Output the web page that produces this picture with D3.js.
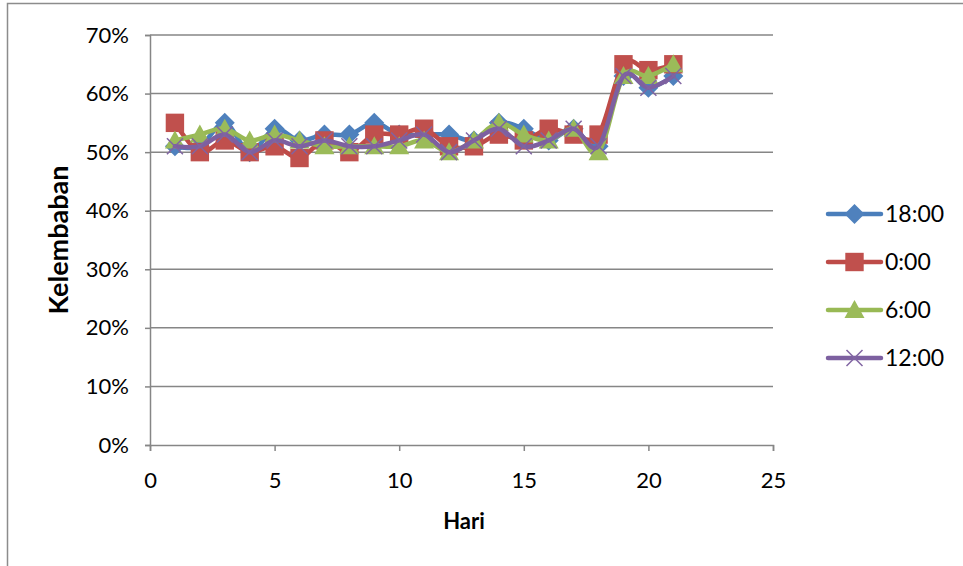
<!DOCTYPE html>
<html><head><meta charset="utf-8">
<script src="https://cdn.jsdelivr.net/npm/d3@7"></script>
<style>body{margin:0;background:#fff}svg{display:block}text{font-family:Lato,"Open Sans",sans-serif}</style>
</head><body>
<svg id="c" width="963" height="566"></svg>
<script>
const days = d3.range(1, 22);
const seriesNames = ["18:00", "0:00", "6:00", "12:00"];
const s1800 = [0.51,0.51,0.55,0.50,0.54,0.52,0.53,0.53,0.55,0.53,0.53,0.53,0.52,0.55,0.54,0.52,0.54,0.51,0.63,0.61,0.63];
const s0000 = [0.55,0.50,0.52,0.50,0.51,0.49,0.52,0.50,0.53,0.53,0.54,0.51,0.51,0.53,0.52,0.54,0.53,0.53,0.65,0.64,0.65];
const s0600 = [0.52,0.53,0.54,0.52,0.53,0.52,0.51,0.51,0.51,0.51,0.52,0.50,0.52,0.55,0.53,0.52,0.54,0.50,0.63,0.63,0.65];
const s1200 = [0.51,0.51,0.53,0.50,0.52,0.51,0.52,0.51,0.51,0.52,0.53,0.50,0.52,0.54,0.51,0.52,0.54,0.51,0.63,0.61,0.63];
const xTicks = [0,5,10,15,20,25];
const yTicks = [0,0.1,0.2,0.3,0.4,0.5,0.6,0.7];
const colors = ["#4A7EBB","#BE4B48","#98B954","#7D60A0"];
const markerColors = ["#4F81BD","#C0504D","#9BBB59","#8064A2"];
const shapes = ["diamond","square","triangle","x"];
const allSeries = [s1800, s0000, s0600, s1200];

const svg = d3.select("#c");
const L = 150, R = 773, T = 35, B = 445;
const x = d3.scaleLinear().domain([0,25]).range([L,R]);
const y = d3.scaleLinear().domain([0,0.7]).range([B,T]);

// outer frame
svg.append("rect").attr("x",7.5).attr("y",3.5).attr("width",1000).attr("height",1000)
  .attr("fill","none").attr("stroke","#8c8c8c").attr("stroke-width",1.5);

// gridlines
svg.append("g").selectAll("line").data(yTicks.slice(1)).join("line")
  .attr("x1",L).attr("x2",R).attr("y1",d=>y(d)).attr("y2",d=>y(d))
  .attr("stroke","#868686").attr("stroke-width",1.5);

const yAxis = svg.append("g").attr("transform",`translate(${L},0)`)
  .call(d3.axisLeft(y).tickValues(yTicks).tickFormat(d3.format(".0%")).tickSize(5).tickPadding(16));
const xAxis = svg.append("g").attr("transform",`translate(0,${B})`)
  .call(d3.axisBottom(x).tickValues(xTicks).tickSize(6).tickPadding(21));
[yAxis,xAxis].forEach(a=>{
  a.select(".domain").attr("stroke","#868686").attr("stroke-width",1.5);
  a.selectAll(".tick line").attr("stroke","#868686").attr("stroke-width",1.5);
  a.selectAll("text").attr("font-size",22).attr("fill","#000").style("font-family","Lato,'Open Sans',sans-serif");
});

svg.append("text").attr("x",464).attr("y",529).attr("text-anchor","middle")
  .attr("font-size",22).attr("font-weight","bold").text("Hari");
svg.append("text").attr("transform","translate(68,240) rotate(-90)").attr("text-anchor","middle")
  .attr("font-size",27).attr("font-weight","bold").text("Kelembaban");

function marker(g, shape, cx, cy, col, s){
  if(shape==="diamond"){
    g.append("path").attr("d",`M${cx},${cy-s}L${cx+s},${cy}L${cx},${cy+s}L${cx-s},${cy}Z`).attr("fill",col);
  } else if(shape==="square"){
    g.append("rect").attr("x",cx-s*0.92).attr("y",cy-s*0.92).attr("width",s*1.84).attr("height",s*1.84).attr("fill",col);
  } else if(shape==="triangle"){
    g.append("path").attr("d",`M${cx},${cy-s}L${cx+s},${cy+s*0.8}L${cx-s},${cy+s*0.8}Z`).attr("fill",col);
  } else {
    g.append("path").attr("d",`M${cx-s*0.8},${cy-s*0.8}L${cx+s*0.8},${cy+s*0.8}M${cx-s*0.8},${cy+s*0.8}L${cx+s*0.8},${cy-s*0.8}`)
      .attr("stroke",col).attr("stroke-width",1.5).attr("fill","none");
  }
}

const line = d3.line().x((d,i)=>x(days[i])).y(d=>y(d)).curve(d3.curveCatmullRom.alpha(0));
allSeries.forEach((s,k)=>{
  const g = svg.append("g");
  g.append("path").datum(s).attr("d",line).attr("fill","none")
    .attr("stroke",colors[k]).attr("stroke-width",4.5).attr("stroke-linejoin","round").attr("stroke-linecap","round");
  s.forEach((v,i)=>marker(g, shapes[k], x(days[i]), y(v), markerColors[k], 10));
});

// legend
const leg = svg.append("g");
seriesNames.forEach((n,k)=>{
  const yy = 214 + k*48;
  leg.append("line").attr("x1",828).attr("x2",881).attr("y1",yy).attr("y2",yy)
    .attr("stroke",colors[k]).attr("stroke-width",4.5).attr("stroke-linecap","round");
  marker(leg, shapes[k], 854.5, yy, markerColors[k], 10);
  leg.append("text").attr("x",885).attr("y",yy+8).attr("font-size",23).text(n);
});
</script>
</body></html>
